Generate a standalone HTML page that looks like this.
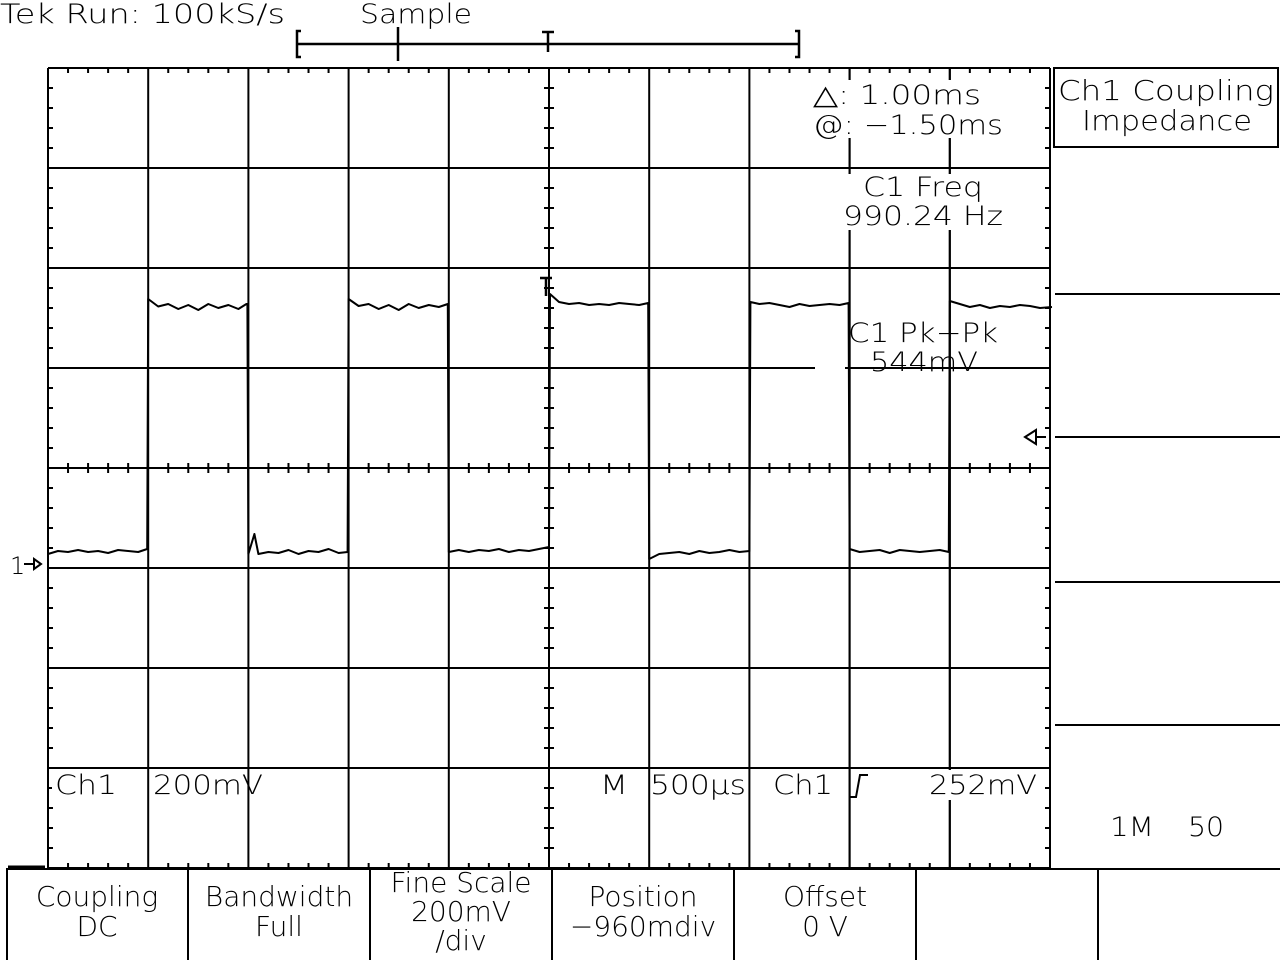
<!DOCTYPE html>
<html><head><meta charset="utf-8"><style>
html,body{margin:0;padding:0;background:#fff;}
svg{display:block;}
text{font-family:"DejaVu Sans","Liberation Sans",sans-serif;fill:#000;font-weight:200;}
</style></head><body>
<svg id="scope" width="1280" height="960" viewBox="0 0 1280 960" xmlns="http://www.w3.org/2000/svg">
<rect width="1280" height="960" fill="#fff"/>
<g id="grid"></g>
<g id="trace"></g>
<g id="labels">
<text x="0" y="23" font-size="27" textLength="285" lengthAdjust="spacingAndGlyphs">Tek Run: 100kS/s</text>
<text x="360" y="23" font-size="27" textLength="112" lengthAdjust="spacingAndGlyphs">Sample</text>
<g stroke="#000" stroke-width="2.5" fill="none">
<line x1="298" y1="44" x2="799" y2="44"/>
<path d="M301 31 H297 V57 H301"/><path d="M795 31 H799 V57 H795"/>
<line x1="398" y1="27" x2="398" y2="61"/>
<line x1="548" y1="32" x2="548" y2="52"/><line x1="542" y1="32" x2="554" y2="32"/>
</g>
<rect x="812" y="80" width="196" height="58" fill="#fff"/>
<text x="813" y="104" font-size="27" textLength="168" lengthAdjust="spacingAndGlyphs">△: 1.00ms</text>
<text x="813" y="134" font-size="27" textLength="190" lengthAdjust="spacingAndGlyphs">@: −1.50ms</text>
<rect x="840" y="174" width="168" height="56" fill="#fff"/>
<text x="863" y="196" font-size="27" textLength="120" lengthAdjust="spacingAndGlyphs">C1 Freq</text>
<text x="843" y="225" font-size="27" textLength="160" lengthAdjust="spacingAndGlyphs">990.24 Hz</text>
<rect x="815" y="350" width="30" height="26" fill="#fff"/>
<text x="848" y="342" font-size="27" textLength="150" lengthAdjust="spacingAndGlyphs">C1 Pk−Pk</text>
<text x="870" y="371" font-size="27" textLength="108" lengthAdjust="spacingAndGlyphs">544mV</text>
<rect x="52" y="770" width="90" height="30" fill="#fff"/>
<rect x="153" y="770" width="90" height="30" fill="#fff"/>
<text x="55" y="794" font-size="27" textLength="62" lengthAdjust="spacingAndGlyphs">Ch1</text>
<text x="153" y="794" font-size="27" textLength="110" lengthAdjust="spacingAndGlyphs">200mV</text>
<rect x="598" y="770" width="48" height="30" fill="#fff"/>
<rect x="652" y="770" width="94" height="30" fill="#fff"/>
<rect x="770" y="770" width="76" height="30" fill="#fff"/>
<rect x="928" y="770" width="112" height="30" fill="#fff"/>
<text x="600" y="794" font-size="27" textLength="28" lengthAdjust="spacingAndGlyphs">M</text>
<text x="650" y="794" font-size="27" textLength="96" lengthAdjust="spacingAndGlyphs">500µs</text>
<text x="773" y="794" font-size="27" textLength="60" lengthAdjust="spacingAndGlyphs">Ch1</text>
<path d="M850 797 L856 797 L860 775 L868 775" stroke="#000" stroke-width="2" fill="none"/>
<text x="929" y="794" font-size="27" textLength="108" lengthAdjust="spacingAndGlyphs">252mV</text>
<text x="10" y="574" font-size="24">1</text>
<path d="M24 564 H34 M34 559 L41 564 L34 569 Z" stroke="#000" stroke-width="2" fill="none"/>
<path d="M1025 437 L1036 430 V444 Z M1036 437 H1046" stroke="#000" stroke-width="2" fill="none"/>
</g>
<g id="side">
<rect x="1054" y="68" width="224" height="79" fill="#fff" stroke="#000" stroke-width="2"/>
<text x="1058" y="100" font-size="28" textLength="216" lengthAdjust="spacingAndGlyphs">Ch1 Coupling</text>
<text x="1082" y="130" font-size="28" textLength="170" lengthAdjust="spacingAndGlyphs">Impedance</text>
<g stroke="#000" stroke-width="2">
<line x1="1055" y1="294" x2="1280" y2="294"/>
<line x1="1055" y1="437" x2="1280" y2="437"/>
<line x1="1055" y1="582" x2="1280" y2="582"/>
<line x1="1055" y1="725" x2="1280" y2="725"/>
</g>
<text x="1110" y="836" font-size="27" textLength="44" lengthAdjust="spacingAndGlyphs">1M</text>
<text x="1188" y="836" font-size="27" textLength="36" lengthAdjust="spacingAndGlyphs">50</text>
</g>
<g id="bottom">
<g stroke="#000" stroke-width="2">
<line x1="6" y1="869" x2="1280" y2="869"/>
<line x1="8" y1="867" x2="45" y2="867" stroke-width="3"/>
<line x1="7" y1="869" x2="7" y2="960"/>
<line x1="188" y1="869" x2="188" y2="960"/>
<line x1="370" y1="869" x2="370" y2="960"/>
<line x1="552" y1="869" x2="552" y2="960"/>
<line x1="734" y1="869" x2="734" y2="960"/>
<line x1="916" y1="869" x2="916" y2="960"/>
<line x1="1098" y1="869" x2="1098" y2="960"/>
</g>
<g font-size="28" text-anchor="middle">
<text x="97" y="906">Coupling</text>
<text x="97" y="936">DC</text>
<text x="279" y="906">Bandwidth</text>
<text x="279" y="936">Full</text>
<text x="461" y="892">Fine Scale</text>
<text x="461" y="921">200mV</text>
<text x="461" y="950">/div</text>
<text x="643" y="906">Position</text>
<text x="643" y="936">−960mdiv</text>
<text x="825" y="906">Offset</text>
<text x="825" y="936">0 V</text>
</g>
</g>
</svg>
<script>
// Ch1 samples: time (µs from left screen edge) and voltage (mV)
const timesUs = [0,50,100,150,200,250,300,350,400,450,495,
500,550,600,650,700,750,800,850,900,950,990,
995,1000,1030,1050,1100,1150,1200,1250,1300,1350,1400,1450,1495,
1500,1550,1600,1650,1700,1750,1800,1850,1900,1950,1995,
2000,2050,2100,2150,2200,2250,2300,2350,2400,2450,2500,
2505,2550,2600,2650,2700,2750,2800,2850,2900,2950,2995,
3000,3050,3100,3150,3200,3250,3300,3350,3400,3450,3500,
3505,3550,3600,3650,3700,3750,3800,3850,3900,3950,3995,
4000,4050,4100,4150,4200,4250,4300,4350,4400,4450,4495,
4500,4550,4600,4650,4700,4750,4800,4850,4900,4950,5010];
const voltsMv = [20,26,24,28,24,26,22,28,26,24,30,
530,515,520,510,518,508,520,512,518,510,520,
520,20,60,20,24,22,28,20,26,24,30,22,24,
530,516,520,510,518,508,520,512,518,514,520,
24,28,24,28,26,30,24,28,26,30,34,
540,524,520,522,518,520,518,522,520,518,522,
10,20,22,24,20,26,22,24,28,24,26,
524,520,522,518,514,520,516,518,520,518,522,
30,24,26,28,22,28,26,24,26,28,24,
526,520,514,518,512,516,514,518,516,512,514];
const cursorTimesUs = [4000,4500];
const xDivs = [0,1,2,3,4,5,6,7,8,9,10];
const yDivs = [0,1,2,3,4,5,6,7,8];

const NS="http://www.w3.org/2000/svg";
const X0=48,X1=1050,Y0=68,Y1=868;
const pxPerDivX=(X1-X0)/10, pxPerDivY=(Y1-Y0)/8;
const usPerDiv=500, mvPerDiv=200, groundY=564;
function xScale(t){return X0+t/usPerDiv*pxPerDivX;}
function yScale(v){return groundY-v/mvPerDiv*pxPerDivY;}
function mk(tag,attrs,parent){const e=document.createElementNS(NS,tag);for(const k in attrs)e.setAttribute(k,attrs[k]);parent.appendChild(e);return e;}

const grid=document.getElementById('grid');
xDivs.forEach(d=>{
  const x=X0+d*pxPerDivX;
  const l=mk('line',{x1:x,y1:Y0,x2:x,y2:Y1,stroke:'#000','stroke-width':2},grid);
  
  
});
yDivs.forEach(d=>{
  const y=Y0+d*pxPerDivY;
  const l=mk('line',{x1:X0,y1:y,x2:X1,y2:y,stroke:'#000','stroke-width':2},grid);
  
  
});
const cx=(X0+X1)/2, cy=(Y0+Y1)/2;
for(let i=1;i<50;i++){
  if(i%5===0)continue;
  const x=X0+i*pxPerDivX/5;
  mk('line',{x1:x,y1:cy-5,x2:x,y2:cy+5,stroke:'#000','stroke-width':2},grid);
  mk('line',{x1:x,y1:Y0,x2:x,y2:Y0+5,stroke:'#000','stroke-width':2},grid);
  mk('line',{x1:x,y1:Y1-5,x2:x,y2:Y1,stroke:'#000','stroke-width':2},grid);
}
for(let i=1;i<40;i++){
  if(i%5===0)continue;
  const y=Y0+i*pxPerDivY/5;
  mk('line',{x1:cx-5,y1:y,x2:cx+5,y2:y,stroke:'#000','stroke-width':2},grid);
  mk('line',{x1:X0,y1:y,x2:X0+5,y2:y,stroke:'#000','stroke-width':2},grid);
  mk('line',{x1:X1-5,y1:y,x2:X1,y2:y,stroke:'#000','stroke-width':2},grid);
}
mk('path',{d:'M540 278 H552 M546 278 V296',stroke:'#000','stroke-width':2.5,fill:'none'},grid);

const trace=document.getElementById('trace');
cursorTimesUs.forEach(t=>{
  const x=xScale(t);
  const c=mk('line',{x1:x,y1:Y0,x2:x,y2:Y1,stroke:'#000','stroke-width':2},trace);
  
  
});
let d='';
timesUs.forEach((t,i)=>{d+=(i?'L':'M')+xScale(t).toFixed(1)+' '+yScale(voltsMv[i]).toFixed(1)+' ';});
const p=mk('path',{d:d,stroke:'#000','stroke-width':2,fill:'none','stroke-linejoin':'round'},trace);


const svg=document.getElementById('scope');
svg.appendChild(document.getElementById('labels'));
</script>
</body></html>
